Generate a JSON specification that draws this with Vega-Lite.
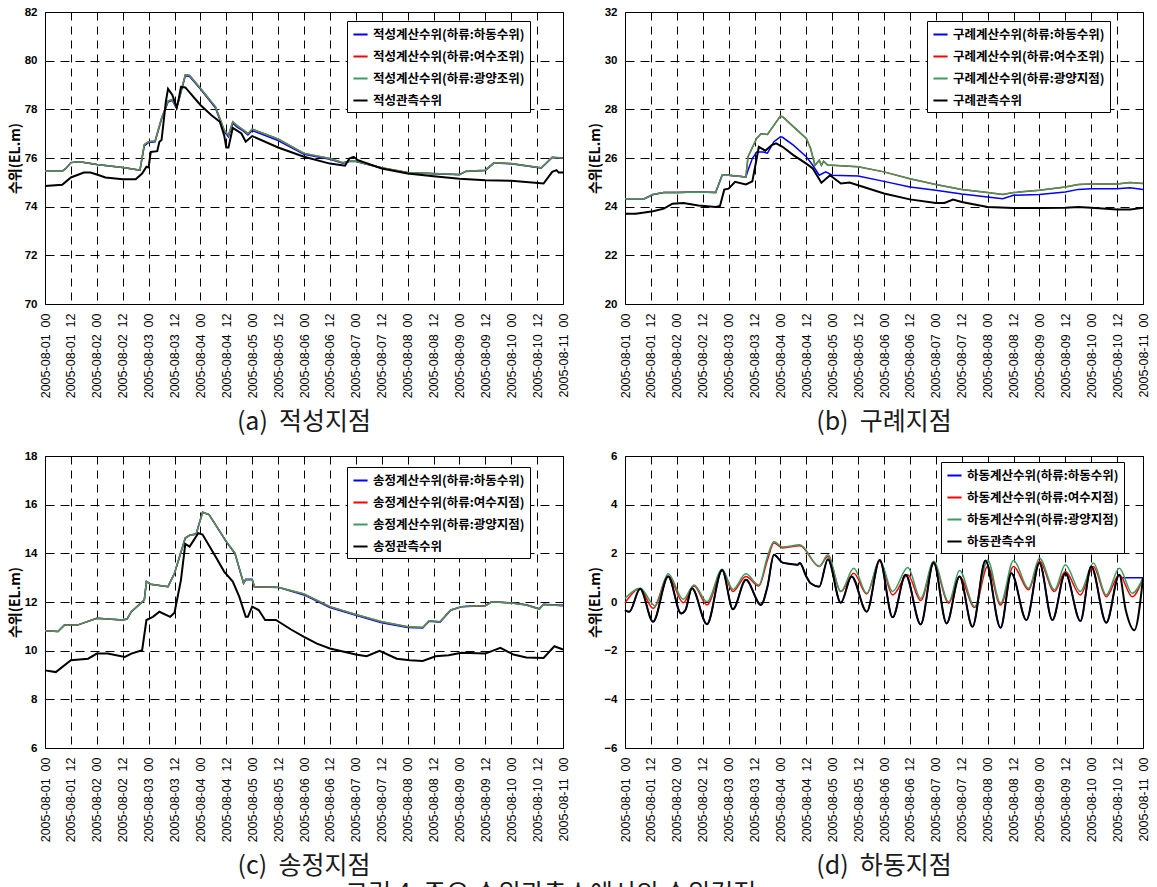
{
"$schema": "https://vega.github.io/schema/vega-lite/v6.json",
"padding": {"left": 7, "top": 5, "right": 0, "bottom": 0},
"title": {"text": "그림 4. 주요 수위관측소에서의 수위검정", "orient": "bottom", "anchor": "middle", "offset": 3, "dx": -28},
"config": {
 "font": "Liberation Sans",
 "view": {"stroke": "#000", "strokeWidth": 1},
 "axis": {"grid": true, "gridColor": "#000", "gridOpacity": 1, "gridWidth": 1, "domain": false, "ticks": false, "labelColor": "#000", "titleColor": "#000"},
 "axisX": {"gridDash": [8, 6], "labelAngle": -90, "labelFontSize": 12.5, "labelPadding": 9, "labelFlush": false, "labelOverlap": false, "format": "%Y-%m-%d\u00a0\u00a0%H"},
 "axisY": {"gridDash": [9, 6], "labelFontSize": 11.5, "labelFontWeight": "bold", "labelPadding": 8, "minExtent": 21, "maxExtent": 21, "titleFont": "Noto Sans CJK KR", "titleFontSize": 14, "titleFontWeight": "bold", "titlePadding": 2},
 "legend": {"orient": "none", "title": null, "labelFont": "Noto Sans CJK KR", "labelFontSize": 12.5, "labelFontWeight": "bold", "labelColor": "#000", "symbolType": "stroke", "symbolStrokeWidth": 2, "symbolSize": 200, "strokeColor": "#000", "fillColor": "#fff", "padding": 5, "rowPadding": 7, "labelOffset": 4, "labelLimit": 300},
 "title": {"orient": "bottom", "anchor": "middle", "font": "Noto Sans CJK KR", "fontSize": 25, "fontWeight": "normal", "color": "#1a1a1a", "offset": 12}
},
"resolve": {"scale": {"color": "independent"}, "legend": {"color": "independent"}},
"spacing": 13,
"vconcat": [
{"hconcat": [
{
 "width": 518, "height": 292,
 "title": {"text": "(a)\u00a0 적성지점"},
 "data": {"values": [
{"s":"b","t":"2005-08-01 00:00","v":75.46},{"s":"b","t":"2005-08-01 08:00","v":75.46},{"s":"b","t":"2005-08-01 10:00","v":75.6},{"s":"b","t":"2005-08-01 12:00","v":75.81},{"s":"b","t":"2005-08-01 16:00","v":75.85},{"s":"b","t":"2005-08-02 00:00","v":75.73},{"s":"b","t":"2005-08-02 12:00","v":75.61},{"s":"b","t":"2005-08-02 18:00","v":75.53},{"s":"b","t":"2005-08-02 20:00","v":75.5},{"s":"b","t":"2005-08-02 22:00","v":76.5},{"s":"b","t":"2005-08-03 00:00","v":76.64},{"s":"b","t":"2005-08-03 03:00","v":76.67},{"s":"b","t":"2005-08-03 06:00","v":77.6},{"s":"b","t":"2005-08-03 09:00","v":78.3},{"s":"b","t":"2005-08-03 11:00","v":78.37},{"s":"b","t":"2005-08-03 13:00","v":78.04},{"s":"b","t":"2005-08-03 15:00","v":78.7},{"s":"b","t":"2005-08-03 17:00","v":79.38},{"s":"b","t":"2005-08-03 19:00","v":79.35},{"s":"b","t":"2005-08-04 00:00","v":78.83},{"s":"b","t":"2005-08-04 07:00","v":78.05},{"s":"b","t":"2005-08-04 09:00","v":77.57},{"s":"b","t":"2005-08-04 11:00","v":77.08},{"s":"b","t":"2005-08-04 13:00","v":76.87},{"s":"b","t":"2005-08-04 15:00","v":77.43},{"s":"b","t":"2005-08-04 17:00","v":77.27},{"s":"b","t":"2005-08-04 20:00","v":77.1},{"s":"b","t":"2005-08-04 22:00","v":76.95},{"s":"b","t":"2005-08-05 00:00","v":77.13},{"s":"b","t":"2005-08-05 12:00","v":76.72},{"s":"b","t":"2005-08-06 00:00","v":76.15},{"s":"b","t":"2005-08-06 12:00","v":75.95},{"s":"b","t":"2005-08-06 18:00","v":75.79},{"s":"b","t":"2005-08-06 21:00","v":75.86},{"s":"b","t":"2005-08-07 00:00","v":75.86},{"s":"b","t":"2005-08-07 12:00","v":75.59},{"s":"b","t":"2005-08-08 00:00","v":75.39},{"s":"b","t":"2005-08-08 12:00","v":75.35},{"s":"b","t":"2005-08-09 00:00","v":75.31},{"s":"b","t":"2005-08-09 03:00","v":75.45},{"s":"b","t":"2005-08-09 12:00","v":75.49},{"s":"b","t":"2005-08-09 16:00","v":75.79},{"s":"b","t":"2005-08-10 00:00","v":75.76},{"s":"b","t":"2005-08-10 12:00","v":75.61},{"s":"b","t":"2005-08-10 14:00","v":75.59},{"s":"b","t":"2005-08-10 19:00","v":76.02},{"s":"b","t":"2005-08-11 00:00","v":75.99},
{"s":"r","t":"2005-08-01 00:00","v":75.46},{"s":"r","t":"2005-08-01 08:00","v":75.46},{"s":"r","t":"2005-08-01 10:00","v":75.6},{"s":"r","t":"2005-08-01 12:00","v":75.81},{"s":"r","t":"2005-08-01 16:00","v":75.85},{"s":"r","t":"2005-08-02 00:00","v":75.73},{"s":"r","t":"2005-08-02 12:00","v":75.61},{"s":"r","t":"2005-08-02 18:00","v":75.53},{"s":"r","t":"2005-08-02 20:00","v":75.5},{"s":"r","t":"2005-08-02 22:00","v":76.55},{"s":"r","t":"2005-08-03 00:00","v":76.67},{"s":"r","t":"2005-08-03 03:00","v":76.7},{"s":"r","t":"2005-08-03 06:00","v":77.63},{"s":"r","t":"2005-08-03 09:00","v":78.34},{"s":"r","t":"2005-08-03 11:00","v":78.4},{"s":"r","t":"2005-08-03 13:00","v":78.07},{"s":"r","t":"2005-08-03 15:00","v":78.73},{"s":"r","t":"2005-08-03 17:00","v":79.42},{"s":"r","t":"2005-08-03 19:00","v":79.39},{"s":"r","t":"2005-08-04 00:00","v":78.87},{"s":"r","t":"2005-08-04 07:00","v":78.1},{"s":"r","t":"2005-08-04 09:00","v":77.63},{"s":"r","t":"2005-08-04 11:00","v":77.15},{"s":"r","t":"2005-08-04 13:00","v":76.94},{"s":"r","t":"2005-08-04 15:00","v":77.49},{"s":"r","t":"2005-08-04 17:00","v":77.33},{"s":"r","t":"2005-08-04 20:00","v":77.15},{"s":"r","t":"2005-08-04 22:00","v":77.0},{"s":"r","t":"2005-08-05 00:00","v":77.19},{"s":"r","t":"2005-08-05 12:00","v":76.78},{"s":"r","t":"2005-08-06 00:00","v":76.19},{"s":"r","t":"2005-08-06 12:00","v":75.98},{"s":"r","t":"2005-08-06 18:00","v":75.81},{"s":"r","t":"2005-08-06 21:00","v":75.88},{"s":"r","t":"2005-08-07 00:00","v":75.87},{"s":"r","t":"2005-08-07 12:00","v":75.6},{"s":"r","t":"2005-08-08 00:00","v":75.4},{"s":"r","t":"2005-08-08 12:00","v":75.36},{"s":"r","t":"2005-08-09 00:00","v":75.32},{"s":"r","t":"2005-08-09 03:00","v":75.46},{"s":"r","t":"2005-08-09 12:00","v":75.5},{"s":"r","t":"2005-08-09 16:00","v":75.8},{"s":"r","t":"2005-08-10 00:00","v":75.77},{"s":"r","t":"2005-08-10 12:00","v":75.62},{"s":"r","t":"2005-08-10 14:00","v":75.6},{"s":"r","t":"2005-08-10 19:00","v":76.03},{"s":"r","t":"2005-08-11 00:00","v":76.0},
{"s":"g","t":"2005-08-01 00:00","v":75.46},{"s":"g","t":"2005-08-01 08:00","v":75.46},{"s":"g","t":"2005-08-01 10:00","v":75.6},{"s":"g","t":"2005-08-01 12:00","v":75.81},{"s":"g","t":"2005-08-01 16:00","v":75.85},{"s":"g","t":"2005-08-02 00:00","v":75.73},{"s":"g","t":"2005-08-02 12:00","v":75.61},{"s":"g","t":"2005-08-02 18:00","v":75.53},{"s":"g","t":"2005-08-02 20:00","v":75.5},{"s":"g","t":"2005-08-02 22:00","v":76.55},{"s":"g","t":"2005-08-03 00:00","v":76.67},{"s":"g","t":"2005-08-03 03:00","v":76.7},{"s":"g","t":"2005-08-03 06:00","v":77.63},{"s":"g","t":"2005-08-03 09:00","v":78.34},{"s":"g","t":"2005-08-03 11:00","v":78.4},{"s":"g","t":"2005-08-03 13:00","v":78.07},{"s":"g","t":"2005-08-03 15:00","v":78.73},{"s":"g","t":"2005-08-03 17:00","v":79.42},{"s":"g","t":"2005-08-03 19:00","v":79.39},{"s":"g","t":"2005-08-04 00:00","v":78.87},{"s":"g","t":"2005-08-04 07:00","v":78.1},{"s":"g","t":"2005-08-04 09:00","v":77.63},{"s":"g","t":"2005-08-04 11:00","v":77.15},{"s":"g","t":"2005-08-04 13:00","v":76.94},{"s":"g","t":"2005-08-04 15:00","v":77.49},{"s":"g","t":"2005-08-04 17:00","v":77.33},{"s":"g","t":"2005-08-04 20:00","v":77.15},{"s":"g","t":"2005-08-04 22:00","v":77.0},{"s":"g","t":"2005-08-05 00:00","v":77.19},{"s":"g","t":"2005-08-05 12:00","v":76.78},{"s":"g","t":"2005-08-06 00:00","v":76.19},{"s":"g","t":"2005-08-06 12:00","v":75.98},{"s":"g","t":"2005-08-06 18:00","v":75.81},{"s":"g","t":"2005-08-06 21:00","v":75.88},{"s":"g","t":"2005-08-07 00:00","v":75.87},{"s":"g","t":"2005-08-07 12:00","v":75.6},{"s":"g","t":"2005-08-08 00:00","v":75.4},{"s":"g","t":"2005-08-08 12:00","v":75.36},{"s":"g","t":"2005-08-09 00:00","v":75.32},{"s":"g","t":"2005-08-09 03:00","v":75.46},{"s":"g","t":"2005-08-09 12:00","v":75.5},{"s":"g","t":"2005-08-09 16:00","v":75.8},{"s":"g","t":"2005-08-10 00:00","v":75.77},{"s":"g","t":"2005-08-10 12:00","v":75.62},{"s":"g","t":"2005-08-10 14:00","v":75.6},{"s":"g","t":"2005-08-10 19:00","v":76.03},{"s":"g","t":"2005-08-11 00:00","v":76.0},
{"s":"k","t":"2005-08-01 00:00","v":74.85},{"s":"k","t":"2005-08-01 08:00","v":74.9},{"s":"k","t":"2005-08-01 12:00","v":75.2},{"s":"k","t":"2005-08-01 18:00","v":75.4},{"s":"k","t":"2005-08-01 21:00","v":75.4},{"s":"k","t":"2005-08-02 00:00","v":75.32},{"s":"k","t":"2005-08-02 04:00","v":75.2},{"s":"k","t":"2005-08-02 12:00","v":75.13},{"s":"k","t":"2005-08-02 18:00","v":75.13},{"s":"k","t":"2005-08-02 21:00","v":75.36},{"s":"k","t":"2005-08-02 23:00","v":75.64},{"s":"k","t":"2005-08-03 00:00","v":75.61},{"s":"k","t":"2005-08-03 01:00","v":76.25},{"s":"k","t":"2005-08-03 04:00","v":76.28},{"s":"k","t":"2005-08-03 05:00","v":76.67},{"s":"k","t":"2005-08-03 06:00","v":76.74},{"s":"k","t":"2005-08-03 08:00","v":78.32},{"s":"k","t":"2005-08-03 09:00","v":78.84},{"s":"k","t":"2005-08-03 11:00","v":78.59},{"s":"k","t":"2005-08-03 13:00","v":78.07},{"s":"k","t":"2005-08-03 14:00","v":78.45},{"s":"k","t":"2005-08-03 15:00","v":78.92},{"s":"k","t":"2005-08-03 17:00","v":78.9},{"s":"k","t":"2005-08-04 00:00","v":78.18},{"s":"k","t":"2005-08-04 05:00","v":77.77},{"s":"k","t":"2005-08-04 09:00","v":77.49},{"s":"k","t":"2005-08-04 11:00","v":76.94},{"s":"k","t":"2005-08-04 12:00","v":76.43},{"s":"k","t":"2005-08-04 13:00","v":76.43},{"s":"k","t":"2005-08-04 15:00","v":77.24},{"s":"k","t":"2005-08-04 19:00","v":77.01},{"s":"k","t":"2005-08-04 21:00","v":76.67},{"s":"k","t":"2005-08-05 00:00","v":76.9},{"s":"k","t":"2005-08-05 12:00","v":76.43},{"s":"k","t":"2005-08-06 00:00","v":76.05},{"s":"k","t":"2005-08-06 12:00","v":75.77},{"s":"k","t":"2005-08-06 19:00","v":75.68},{"s":"k","t":"2005-08-06 21:00","v":75.98},{"s":"k","t":"2005-08-06 23:00","v":76.05},{"s":"k","t":"2005-08-07 01:00","v":75.91},{"s":"k","t":"2005-08-07 12:00","v":75.57},{"s":"k","t":"2005-08-08 00:00","v":75.36},{"s":"k","t":"2005-08-08 12:00","v":75.25},{"s":"k","t":"2005-08-09 00:00","v":75.15},{"s":"k","t":"2005-08-09 12:00","v":75.09},{"s":"k","t":"2005-08-10 00:00","v":75.06},{"s":"k","t":"2005-08-10 15:00","v":74.95},{"s":"k","t":"2005-08-10 19:00","v":75.43},{"s":"k","t":"2005-08-10 21:00","v":75.5},{"s":"k","t":"2005-08-10 22:00","v":75.4},{"s":"k","t":"2005-08-11 00:00","v":75.4}
 ]},
 "mark": {"type": "line"},
 "encoding": {
  "x": {"field": "t", "type": "temporal", "scale": {"domain": [{"year":2005,"month":8,"date":1},{"year":2005,"month":8,"date":11}]}, "axis": {"tickCount": 20, "title": null}},
  "y": {"field": "v", "type": "quantitative", "scale": {"domain": [70, 82], "zero": false}, "axis": {"values": [70,72,74,76,78,80,82], "title": "수위(EL.m)"}},
  "color": {"field": "s", "type": "nominal", "scale": {"domain": ["b","r","g","k"], "range": ["#0000ff","#ff0000","#3d9a60","#000000"]}, "legend": {"legendX": 302, "legendY": 9, "labelExpr": "datum.label=='b'?'적성계산수위(하류:하동수위)':datum.label=='r'?'적성계산수위(하류:여수조위)':datum.label=='g'?'적성계산수위(하류:광양조위)':'적성관측수위'"}},
  "strokeWidth": {"condition": {"test": "datum.s=='k'", "value": 2}, "value": 1.5}
 }
},
{
 "width": 518, "height": 292,
 "title": {"text": "(b)\u00a0 구례지점"},
 "data": {"values": [
{"s":"b","t":"2005-08-01 00:00","v":24.33},{"s":"b","t":"2005-08-01 09:00","v":24.33},{"s":"b","t":"2005-08-01 13:00","v":24.5},{"s":"b","t":"2005-08-01 18:00","v":24.58},{"s":"b","t":"2005-08-02 00:00","v":24.58},{"s":"b","t":"2005-08-02 10:00","v":24.6},{"s":"b","t":"2005-08-02 18:00","v":24.58},{"s":"b","t":"2005-08-02 21:00","v":25.29},{"s":"b","t":"2005-08-03 00:00","v":25.29},{"s":"b","t":"2005-08-03 08:00","v":25.22},{"s":"b","t":"2005-08-03 09:00","v":25.5},{"s":"b","t":"2005-08-03 11:00","v":25.98},{"s":"b","t":"2005-08-03 13:00","v":26.25},{"s":"b","t":"2005-08-03 16:00","v":26.25},{"s":"b","t":"2005-08-03 18:00","v":26.2},{"s":"b","t":"2005-08-03 21:00","v":26.67},{"s":"b","t":"2005-08-04 00:00","v":26.87},{"s":"b","t":"2005-08-04 01:00","v":26.85},{"s":"b","t":"2005-08-04 06:00","v":26.53},{"s":"b","t":"2005-08-04 12:00","v":26.05},{"s":"b","t":"2005-08-04 15:00","v":25.7},{"s":"b","t":"2005-08-04 18:00","v":25.29},{"s":"b","t":"2005-08-04 21:00","v":25.43},{"s":"b","t":"2005-08-05 00:00","v":25.29},{"s":"b","t":"2005-08-05 12:00","v":25.26},{"s":"b","t":"2005-08-06 00:00","v":25.04},{"s":"b","t":"2005-08-06 12:00","v":24.81},{"s":"b","t":"2005-08-07 00:00","v":24.67},{"s":"b","t":"2005-08-07 12:00","v":24.52},{"s":"b","t":"2005-08-08 00:00","v":24.4},{"s":"b","t":"2005-08-08 07:00","v":24.33},{"s":"b","t":"2005-08-08 12:00","v":24.47},{"s":"b","t":"2005-08-09 00:00","v":24.5},{"s":"b","t":"2005-08-09 12:00","v":24.6},{"s":"b","t":"2005-08-09 18:00","v":24.71},{"s":"b","t":"2005-08-10 00:00","v":24.74},{"s":"b","t":"2005-08-10 12:00","v":24.74},{"s":"b","t":"2005-08-10 18:00","v":24.78},{"s":"b","t":"2005-08-11 00:00","v":24.71},
{"s":"r","t":"2005-08-01 00:00","v":24.33},{"s":"r","t":"2005-08-01 09:00","v":24.33},{"s":"r","t":"2005-08-01 13:00","v":24.5},{"s":"r","t":"2005-08-01 18:00","v":24.58},{"s":"r","t":"2005-08-02 00:00","v":24.58},{"s":"r","t":"2005-08-02 10:00","v":24.6},{"s":"r","t":"2005-08-02 18:00","v":24.58},{"s":"r","t":"2005-08-02 21:00","v":25.29},{"s":"r","t":"2005-08-03 00:00","v":25.29},{"s":"r","t":"2005-08-03 08:00","v":25.22},{"s":"r","t":"2005-08-03 09:00","v":26.05},{"s":"r","t":"2005-08-03 13:00","v":26.8},{"s":"r","t":"2005-08-03 15:00","v":27.0},{"s":"r","t":"2005-08-03 18:00","v":26.97},{"s":"r","t":"2005-08-04 00:00","v":27.72},{"s":"r","t":"2005-08-04 01:00","v":27.7},{"s":"r","t":"2005-08-04 06:00","v":27.29},{"s":"r","t":"2005-08-04 12:00","v":26.8},{"s":"r","t":"2005-08-04 14:00","v":26.39},{"s":"r","t":"2005-08-04 16:00","v":25.7},{"s":"r","t":"2005-08-04 18:00","v":25.91},{"s":"r","t":"2005-08-04 19:00","v":25.7},{"s":"r","t":"2005-08-04 20:00","v":25.87},{"s":"r","t":"2005-08-04 22:00","v":25.7},{"s":"r","t":"2005-08-05 00:00","v":25.7},{"s":"r","t":"2005-08-05 12:00","v":25.64},{"s":"r","t":"2005-08-06 00:00","v":25.43},{"s":"r","t":"2005-08-06 12:00","v":25.15},{"s":"r","t":"2005-08-07 00:00","v":24.91},{"s":"r","t":"2005-08-07 12:00","v":24.71},{"s":"r","t":"2005-08-08 00:00","v":24.58},{"s":"r","t":"2005-08-08 07:00","v":24.5},{"s":"r","t":"2005-08-08 12:00","v":24.58},{"s":"r","t":"2005-08-09 00:00","v":24.67},{"s":"r","t":"2005-08-09 12:00","v":24.81},{"s":"r","t":"2005-08-09 18:00","v":24.91},{"s":"r","t":"2005-08-10 00:00","v":24.93},{"s":"r","t":"2005-08-10 12:00","v":24.93},{"s":"r","t":"2005-08-10 18:00","v":24.99},{"s":"r","t":"2005-08-11 00:00","v":24.95},
{"s":"g","t":"2005-08-01 00:00","v":24.33},{"s":"g","t":"2005-08-01 09:00","v":24.33},{"s":"g","t":"2005-08-01 13:00","v":24.5},{"s":"g","t":"2005-08-01 18:00","v":24.58},{"s":"g","t":"2005-08-02 00:00","v":24.58},{"s":"g","t":"2005-08-02 10:00","v":24.6},{"s":"g","t":"2005-08-02 18:00","v":24.58},{"s":"g","t":"2005-08-02 21:00","v":25.29},{"s":"g","t":"2005-08-03 00:00","v":25.29},{"s":"g","t":"2005-08-03 08:00","v":25.22},{"s":"g","t":"2005-08-03 09:00","v":26.05},{"s":"g","t":"2005-08-03 13:00","v":26.8},{"s":"g","t":"2005-08-03 15:00","v":27.0},{"s":"g","t":"2005-08-03 18:00","v":26.97},{"s":"g","t":"2005-08-04 00:00","v":27.72},{"s":"g","t":"2005-08-04 01:00","v":27.7},{"s":"g","t":"2005-08-04 06:00","v":27.29},{"s":"g","t":"2005-08-04 12:00","v":26.8},{"s":"g","t":"2005-08-04 14:00","v":26.39},{"s":"g","t":"2005-08-04 16:00","v":25.7},{"s":"g","t":"2005-08-04 18:00","v":25.91},{"s":"g","t":"2005-08-04 19:00","v":25.7},{"s":"g","t":"2005-08-04 20:00","v":25.87},{"s":"g","t":"2005-08-04 22:00","v":25.7},{"s":"g","t":"2005-08-05 00:00","v":25.7},{"s":"g","t":"2005-08-05 12:00","v":25.64},{"s":"g","t":"2005-08-06 00:00","v":25.43},{"s":"g","t":"2005-08-06 12:00","v":25.15},{"s":"g","t":"2005-08-07 00:00","v":24.91},{"s":"g","t":"2005-08-07 12:00","v":24.71},{"s":"g","t":"2005-08-08 00:00","v":24.58},{"s":"g","t":"2005-08-08 07:00","v":24.5},{"s":"g","t":"2005-08-08 12:00","v":24.58},{"s":"g","t":"2005-08-09 00:00","v":24.67},{"s":"g","t":"2005-08-09 12:00","v":24.81},{"s":"g","t":"2005-08-09 18:00","v":24.91},{"s":"g","t":"2005-08-10 00:00","v":24.93},{"s":"g","t":"2005-08-10 12:00","v":24.93},{"s":"g","t":"2005-08-10 18:00","v":24.99},{"s":"g","t":"2005-08-11 00:00","v":24.95},
{"s":"k","t":"2005-08-01 00:00","v":23.71},{"s":"k","t":"2005-08-01 05:00","v":23.71},{"s":"k","t":"2005-08-01 13:00","v":23.81},{"s":"k","t":"2005-08-01 18:00","v":23.92},{"s":"k","t":"2005-08-01 22:00","v":24.12},{"s":"k","t":"2005-08-02 03:00","v":24.15},{"s":"k","t":"2005-08-02 10:00","v":24.05},{"s":"k","t":"2005-08-02 18:00","v":23.99},{"s":"k","t":"2005-08-02 20:00","v":24.03},{"s":"k","t":"2005-08-02 22:00","v":24.7},{"s":"k","t":"2005-08-03 00:00","v":24.74},{"s":"k","t":"2005-08-03 03:00","v":25.02},{"s":"k","t":"2005-08-03 08:00","v":24.91},{"s":"k","t":"2005-08-03 11:00","v":25.04},{"s":"k","t":"2005-08-03 13:00","v":25.98},{"s":"k","t":"2005-08-03 14:00","v":26.46},{"s":"k","t":"2005-08-03 17:00","v":26.3},{"s":"k","t":"2005-08-03 20:00","v":26.53},{"s":"k","t":"2005-08-03 22:00","v":26.6},{"s":"k","t":"2005-08-04 01:00","v":26.46},{"s":"k","t":"2005-08-04 06:00","v":26.12},{"s":"k","t":"2005-08-04 12:00","v":25.77},{"s":"k","t":"2005-08-04 15:00","v":25.57},{"s":"k","t":"2005-08-04 19:00","v":24.98},{"s":"k","t":"2005-08-04 23:00","v":25.29},{"s":"k","t":"2005-08-05 04:00","v":24.95},{"s":"k","t":"2005-08-05 08:00","v":24.99},{"s":"k","t":"2005-08-05 12:00","v":24.88},{"s":"k","t":"2005-08-06 00:00","v":24.54},{"s":"k","t":"2005-08-06 12:00","v":24.3},{"s":"k","t":"2005-08-07 00:00","v":24.15},{"s":"k","t":"2005-08-07 04:00","v":24.15},{"s":"k","t":"2005-08-07 08:00","v":24.29},{"s":"k","t":"2005-08-07 12:00","v":24.19},{"s":"k","t":"2005-08-08 00:00","v":23.99},{"s":"k","t":"2005-08-08 12:00","v":23.95},{"s":"k","t":"2005-08-09 00:00","v":23.95},{"s":"k","t":"2005-08-09 12:00","v":23.96},{"s":"k","t":"2005-08-09 18:00","v":23.99},{"s":"k","t":"2005-08-10 00:00","v":23.96},{"s":"k","t":"2005-08-10 12:00","v":23.88},{"s":"k","t":"2005-08-10 18:00","v":23.88},{"s":"k","t":"2005-08-11 00:00","v":23.95}
 ]},
 "mark": {"type": "line"},
 "encoding": {
  "x": {"field": "t", "type": "temporal", "scale": {"domain": [{"year":2005,"month":8,"date":1},{"year":2005,"month":8,"date":11}]}, "axis": {"tickCount": 20, "title": null}},
  "y": {"field": "v", "type": "quantitative", "scale": {"domain": [20, 32], "zero": false}, "axis": {"values": [20,22,24,26,28,30,32], "title": "수위(EL.m)"}},
  "color": {"field": "s", "type": "nominal", "scale": {"domain": ["b","r","g","k"], "range": ["#0000ff","#ff0000","#3d9a60","#000000"]}, "legend": {"legendX": 302, "legendY": 9, "labelExpr": "datum.label=='b'?'구례계산수위(하류:하동수위)':datum.label=='r'?'구례계산수위(하류:여수조위)':datum.label=='g'?'구례계산수위(하류:광양지점)':'구례관측수위'"}},
  "strokeWidth": {"condition": {"test": "datum.s=='k'", "value": 2}, "value": 1.5}
 }
}
], "spacing": 17, "resolve": {"scale": {"color": "independent"}, "legend": {"color": "independent"}}},
{"hconcat": [
{
 "width": 518, "height": 292,
 "title": {"text": "(c)\u00a0 송정지점"},
 "data": {"values": [
{"s":"b","t":"2005-08-01 00:00","v":10.82},{"s":"b","t":"2005-08-01 06:00","v":10.79},{"s":"b","t":"2005-08-01 09:00","v":11.05},{"s":"b","t":"2005-08-01 15:00","v":11.05},{"s":"b","t":"2005-08-02 00:00","v":11.33},{"s":"b","t":"2005-08-02 12:00","v":11.26},{"s":"b","t":"2005-08-02 14:00","v":11.3},{"s":"b","t":"2005-08-02 16:00","v":11.6},{"s":"b","t":"2005-08-02 22:00","v":12.08},{"s":"b","t":"2005-08-02 23:00","v":12.84},{"s":"b","t":"2005-08-03 01:00","v":12.73},{"s":"b","t":"2005-08-03 09:00","v":12.63},{"s":"b","t":"2005-08-03 12:00","v":13.18},{"s":"b","t":"2005-08-03 17:00","v":14.63},{"s":"b","t":"2005-08-03 19:00","v":14.74},{"s":"b","t":"2005-08-03 22:00","v":14.79},{"s":"b","t":"2005-08-04 01:00","v":15.69},{"s":"b","t":"2005-08-04 04:00","v":15.59},{"s":"b","t":"2005-08-04 12:00","v":14.47},{"s":"b","t":"2005-08-04 16:00","v":13.99},{"s":"b","t":"2005-08-04 20:00","v":12.77},{"s":"b","t":"2005-08-04 21:00","v":12.93},{"s":"b","t":"2005-08-05 00:00","v":12.93},{"s":"b","t":"2005-08-05 01:00","v":12.63},{"s":"b","t":"2005-08-05 12:00","v":12.6},{"s":"b","t":"2005-08-06 00:00","v":12.29},{"s":"b","t":"2005-08-06 12:00","v":11.77},{"s":"b","t":"2005-08-07 00:00","v":11.45},{"s":"b","t":"2005-08-07 12:00","v":11.15},{"s":"b","t":"2005-08-08 00:00","v":10.95},{"s":"b","t":"2005-08-08 07:00","v":10.93},{"s":"b","t":"2005-08-08 10:00","v":11.21},{"s":"b","t":"2005-08-08 15:00","v":11.17},{"s":"b","t":"2005-08-08 20:00","v":11.66},{"s":"b","t":"2005-08-09 01:00","v":11.8},{"s":"b","t":"2005-08-09 06:00","v":11.83},{"s":"b","t":"2005-08-09 12:00","v":11.85},{"s":"b","t":"2005-08-09 15:00","v":12.01},{"s":"b","t":"2005-08-10 01:00","v":11.96},{"s":"b","t":"2005-08-10 07:00","v":11.89},{"s":"b","t":"2005-08-10 13:00","v":11.72},{"s":"b","t":"2005-08-10 15:00","v":11.91},{"s":"b","t":"2005-08-11 00:00","v":11.87},
{"s":"r","t":"2005-08-01 00:00","v":10.82},{"s":"r","t":"2005-08-01 06:00","v":10.79},{"s":"r","t":"2005-08-01 09:00","v":11.05},{"s":"r","t":"2005-08-01 15:00","v":11.05},{"s":"r","t":"2005-08-02 00:00","v":11.33},{"s":"r","t":"2005-08-02 12:00","v":11.26},{"s":"r","t":"2005-08-02 14:00","v":11.3},{"s":"r","t":"2005-08-02 16:00","v":11.6},{"s":"r","t":"2005-08-02 22:00","v":12.08},{"s":"r","t":"2005-08-02 23:00","v":12.84},{"s":"r","t":"2005-08-03 01:00","v":12.73},{"s":"r","t":"2005-08-03 09:00","v":12.63},{"s":"r","t":"2005-08-03 12:00","v":13.18},{"s":"r","t":"2005-08-03 17:00","v":14.63},{"s":"r","t":"2005-08-03 19:00","v":14.74},{"s":"r","t":"2005-08-03 22:00","v":14.79},{"s":"r","t":"2005-08-04 01:00","v":15.69},{"s":"r","t":"2005-08-04 04:00","v":15.59},{"s":"r","t":"2005-08-04 12:00","v":14.49},{"s":"r","t":"2005-08-04 16:00","v":14.01},{"s":"r","t":"2005-08-04 20:00","v":12.77},{"s":"r","t":"2005-08-04 21:00","v":12.91},{"s":"r","t":"2005-08-05 00:00","v":12.91},{"s":"r","t":"2005-08-05 01:00","v":12.63},{"s":"r","t":"2005-08-05 12:00","v":12.61},{"s":"r","t":"2005-08-06 00:00","v":12.33},{"s":"r","t":"2005-08-06 12:00","v":11.81},{"s":"r","t":"2005-08-07 00:00","v":11.49},{"s":"r","t":"2005-08-07 12:00","v":11.19},{"s":"r","t":"2005-08-08 00:00","v":10.98},{"s":"r","t":"2005-08-08 07:00","v":10.95},{"s":"r","t":"2005-08-08 10:00","v":11.23},{"s":"r","t":"2005-08-08 15:00","v":11.19},{"s":"r","t":"2005-08-08 20:00","v":11.67},{"s":"r","t":"2005-08-09 01:00","v":11.81},{"s":"r","t":"2005-08-09 06:00","v":11.84},{"s":"r","t":"2005-08-09 12:00","v":11.85},{"s":"r","t":"2005-08-09 15:00","v":12.01},{"s":"r","t":"2005-08-10 01:00","v":11.95},{"s":"r","t":"2005-08-10 07:00","v":11.88},{"s":"r","t":"2005-08-10 13:00","v":11.71},{"s":"r","t":"2005-08-10 15:00","v":11.9},{"s":"r","t":"2005-08-11 00:00","v":11.85},
{"s":"g","t":"2005-08-01 00:00","v":10.82},{"s":"g","t":"2005-08-01 06:00","v":10.79},{"s":"g","t":"2005-08-01 09:00","v":11.05},{"s":"g","t":"2005-08-01 15:00","v":11.05},{"s":"g","t":"2005-08-02 00:00","v":11.33},{"s":"g","t":"2005-08-02 12:00","v":11.26},{"s":"g","t":"2005-08-02 14:00","v":11.3},{"s":"g","t":"2005-08-02 16:00","v":11.6},{"s":"g","t":"2005-08-02 22:00","v":12.08},{"s":"g","t":"2005-08-02 23:00","v":12.84},{"s":"g","t":"2005-08-03 01:00","v":12.73},{"s":"g","t":"2005-08-03 09:00","v":12.63},{"s":"g","t":"2005-08-03 12:00","v":13.18},{"s":"g","t":"2005-08-03 17:00","v":14.63},{"s":"g","t":"2005-08-03 19:00","v":14.74},{"s":"g","t":"2005-08-03 22:00","v":14.79},{"s":"g","t":"2005-08-04 01:00","v":15.69},{"s":"g","t":"2005-08-04 04:00","v":15.59},{"s":"g","t":"2005-08-04 12:00","v":14.49},{"s":"g","t":"2005-08-04 16:00","v":14.01},{"s":"g","t":"2005-08-04 20:00","v":12.77},{"s":"g","t":"2005-08-04 21:00","v":12.91},{"s":"g","t":"2005-08-05 00:00","v":12.91},{"s":"g","t":"2005-08-05 01:00","v":12.63},{"s":"g","t":"2005-08-05 12:00","v":12.61},{"s":"g","t":"2005-08-06 00:00","v":12.33},{"s":"g","t":"2005-08-06 12:00","v":11.81},{"s":"g","t":"2005-08-07 00:00","v":11.49},{"s":"g","t":"2005-08-07 12:00","v":11.19},{"s":"g","t":"2005-08-08 00:00","v":10.98},{"s":"g","t":"2005-08-08 07:00","v":10.95},{"s":"g","t":"2005-08-08 10:00","v":11.23},{"s":"g","t":"2005-08-08 15:00","v":11.19},{"s":"g","t":"2005-08-08 20:00","v":11.67},{"s":"g","t":"2005-08-09 01:00","v":11.81},{"s":"g","t":"2005-08-09 06:00","v":11.84},{"s":"g","t":"2005-08-09 12:00","v":11.85},{"s":"g","t":"2005-08-09 15:00","v":12.01},{"s":"g","t":"2005-08-10 01:00","v":11.95},{"s":"g","t":"2005-08-10 07:00","v":11.88},{"s":"g","t":"2005-08-10 13:00","v":11.71},{"s":"g","t":"2005-08-10 15:00","v":11.9},{"s":"g","t":"2005-08-11 00:00","v":11.85},
{"s":"k","t":"2005-08-01 00:00","v":9.19},{"s":"k","t":"2005-08-01 05:00","v":9.12},{"s":"k","t":"2005-08-01 12:00","v":9.61},{"s":"k","t":"2005-08-01 20:00","v":9.67},{"s":"k","t":"2005-08-02 00:00","v":9.88},{"s":"k","t":"2005-08-02 05:00","v":9.88},{"s":"k","t":"2005-08-02 13:00","v":9.74},{"s":"k","t":"2005-08-02 16:00","v":9.88},{"s":"k","t":"2005-08-02 21:00","v":10.02},{"s":"k","t":"2005-08-02 23:00","v":11.26},{"s":"k","t":"2005-08-03 02:00","v":11.39},{"s":"k","t":"2005-08-03 05:00","v":11.6},{"s":"k","t":"2005-08-03 10:00","v":11.39},{"s":"k","t":"2005-08-03 12:00","v":11.56},{"s":"k","t":"2005-08-03 15:00","v":12.91},{"s":"k","t":"2005-08-03 17:00","v":14.39},{"s":"k","t":"2005-08-03 19:00","v":14.28},{"s":"k","t":"2005-08-03 23:00","v":14.83},{"s":"k","t":"2005-08-04 01:00","v":14.77},{"s":"k","t":"2005-08-04 07:00","v":13.87},{"s":"k","t":"2005-08-04 11:00","v":13.25},{"s":"k","t":"2005-08-04 15:00","v":12.84},{"s":"k","t":"2005-08-04 18:00","v":12.22},{"s":"k","t":"2005-08-04 21:00","v":11.39},{"s":"k","t":"2005-08-04 22:00","v":11.39},{"s":"k","t":"2005-08-05 00:00","v":11.81},{"s":"k","t":"2005-08-05 03:00","v":11.67},{"s":"k","t":"2005-08-05 06:00","v":11.26},{"s":"k","t":"2005-08-05 11:00","v":11.26},{"s":"k","t":"2005-08-05 18:00","v":10.87},{"s":"k","t":"2005-08-06 00:00","v":10.57},{"s":"k","t":"2005-08-06 06:00","v":10.29},{"s":"k","t":"2005-08-06 12:00","v":10.09},{"s":"k","t":"2005-08-07 00:00","v":9.84},{"s":"k","t":"2005-08-07 05:00","v":9.77},{"s":"k","t":"2005-08-07 11:00","v":9.99},{"s":"k","t":"2005-08-07 19:00","v":9.67},{"s":"k","t":"2005-08-08 01:00","v":9.61},{"s":"k","t":"2005-08-08 07:00","v":9.58},{"s":"k","t":"2005-08-08 13:00","v":9.77},{"s":"k","t":"2005-08-08 19:00","v":9.81},{"s":"k","t":"2005-08-09 01:00","v":9.91},{"s":"k","t":"2005-08-09 12:00","v":9.88},{"s":"k","t":"2005-08-09 19:00","v":10.12},{"s":"k","t":"2005-08-10 01:00","v":9.84},{"s":"k","t":"2005-08-10 07:00","v":9.72},{"s":"k","t":"2005-08-10 15:00","v":9.7},{"s":"k","t":"2005-08-10 20:00","v":10.18},{"s":"k","t":"2005-08-11 00:00","v":10.05}
 ]},
 "mark": {"type": "line"},
 "encoding": {
  "x": {"field": "t", "type": "temporal", "scale": {"domain": [{"year":2005,"month":8,"date":1},{"year":2005,"month":8,"date":11}]}, "axis": {"tickCount": 20, "title": null}},
  "y": {"field": "v", "type": "quantitative", "scale": {"domain": [6, 18], "zero": false}, "axis": {"values": [6,8,10,12,14,16,18], "title": "수위(EL.m)"}},
  "color": {"field": "s", "type": "nominal", "scale": {"domain": ["b","r","g","k"], "range": ["#0000ff","#ff0000","#3d9a60","#000000"]}, "legend": {"legendX": 302, "legendY": 11, "labelExpr": "datum.label=='b'?'송정계산수위(하류:하동수위)':datum.label=='r'?'송정계산수위(하류:여수지점)':datum.label=='g'?'송정계산수위(하류:광양지점)':'송정관측수위'"}},
  "strokeWidth": {"condition": {"test": "datum.s=='k'", "value": 2}, "value": 1.5}
 }
},
{
 "width": 518, "height": 292,
 "title": {"text": "(d)\u00a0 하동지점"},
 "data": {"values": [
{"s":"b","t":"2005-08-01 00:00","v":-0.33},{"s":"b","t":"2005-08-01 02:00","v":-0.4},{"s":"b","t":"2005-08-01 07:00","v":0.54},{"s":"b","t":"2005-08-01 13:00","v":-0.81},{"s":"b","t":"2005-08-01 20:00","v":1.05},{"s":"b","t":"2005-08-02 02:00","v":-0.47},{"s":"b","t":"2005-08-02 04:00","v":-0.33},{"s":"b","t":"2005-08-02 07:00","v":0.56},{"s":"b","t":"2005-08-02 14:00","v":-0.91},{"s":"b","t":"2005-08-02 21:00","v":1.32},{"s":"b","t":"2005-08-03 02:00","v":-0.3},{"s":"b","t":"2005-08-03 08:00","v":0.91},{"s":"b","t":"2005-08-03 15:00","v":-0.12},{"s":"b","t":"2005-08-03 18:00","v":0.63},{"s":"b","t":"2005-08-03 21:00","v":1.94},{"s":"b","t":"2005-08-04 01:00","v":1.62},{"s":"b","t":"2005-08-04 04:00","v":1.57},{"s":"b","t":"2005-08-04 08:00","v":1.53},{"s":"b","t":"2005-08-04 09:00","v":1.6},{"s":"b","t":"2005-08-04 12:00","v":1.05},{"s":"b","t":"2005-08-04 14:00","v":0.77},{"s":"b","t":"2005-08-04 18:00","v":0.63},{"s":"b","t":"2005-08-04 22:00","v":1.76},{"s":"b","t":"2005-08-05 04:00","v":-0.03},{"s":"b","t":"2005-08-05 09:00","v":1.05},{"s":"b","t":"2005-08-05 16:00","v":-0.4},{"s":"b","t":"2005-08-05 22:00","v":1.73},{"s":"b","t":"2005-08-06 04:00","v":-0.63},{"s":"b","t":"2005-08-06 10:00","v":1.12},{"s":"b","t":"2005-08-06 17:00","v":-0.92},{"s":"b","t":"2005-08-06 23:00","v":1.62},{"s":"b","t":"2005-08-07 05:00","v":-0.88},{"s":"b","t":"2005-08-07 11:00","v":1.05},{"s":"b","t":"2005-08-07 17:00","v":-1.02},{"s":"b","t":"2005-08-07 23:00","v":1.71},{"s":"b","t":"2005-08-08 06:00","v":-1.06},{"s":"b","t":"2005-08-08 11:00","v":1.18},{"s":"b","t":"2005-08-08 18:00","v":-0.74},{"s":"b","t":"2005-08-09 00:00","v":1.6},{"s":"b","t":"2005-08-09 06:00","v":-0.74},{"s":"b","t":"2005-08-09 12:00","v":1.18},{"s":"b","t":"2005-08-09 19:00","v":-0.78},{"s":"b","t":"2005-08-10 00:00","v":1.46},{"s":"b","t":"2005-08-10 07:00","v":-0.85},{"s":"b","t":"2005-08-10 13:00","v":1.12},{"s":"b","t":"2005-08-10 14:00","v":1.0},{"s":"b","t":"2005-08-11 00:00","v":1.0},
{"s":"r","t":"2005-08-01 00:00","v":-0.03},{"s":"r","t":"2005-08-01 07:00","v":0.54},{"s":"r","t":"2005-08-01 13:00","v":-0.26},{"s":"r","t":"2005-08-01 20:00","v":1.07},{"s":"r","t":"2005-08-02 03:00","v":-0.03},{"s":"r","t":"2005-08-02 08:00","v":0.66},{"s":"r","t":"2005-08-02 14:00","v":-0.12},{"s":"r","t":"2005-08-02 21:00","v":1.29},{"s":"r","t":"2005-08-03 02:00","v":0.43},{"s":"r","t":"2005-08-03 08:00","v":1.05},{"s":"r","t":"2005-08-03 14:00","v":0.66},{"s":"r","t":"2005-08-03 18:00","v":1.73},{"s":"r","t":"2005-08-03 21:00","v":2.42},{"s":"r","t":"2005-08-04 01:00","v":2.22},{"s":"r","t":"2005-08-04 09:00","v":2.31},{"s":"r","t":"2005-08-04 18:00","v":1.46},{"s":"r","t":"2005-08-04 22:00","v":1.87},{"s":"r","t":"2005-08-05 04:00","v":0.43},{"s":"r","t":"2005-08-05 10:00","v":1.18},{"s":"r","t":"2005-08-05 16:00","v":0.33},{"s":"r","t":"2005-08-05 22:00","v":1.67},{"s":"r","t":"2005-08-06 04:00","v":0.29},{"s":"r","t":"2005-08-06 11:00","v":1.12},{"s":"r","t":"2005-08-06 17:00","v":0.06},{"s":"r","t":"2005-08-06 23:00","v":1.57},{"s":"r","t":"2005-08-07 06:00","v":-0.05},{"s":"r","t":"2005-08-07 11:00","v":1.05},{"s":"r","t":"2005-08-07 18:00","v":-0.23},{"s":"r","t":"2005-08-08 00:00","v":1.46},{"s":"r","t":"2005-08-08 06:00","v":-0.12},{"s":"r","t":"2005-08-08 12:00","v":1.46},{"s":"r","t":"2005-08-08 19:00","v":0.5},{"s":"r","t":"2005-08-09 00:00","v":1.67},{"s":"r","t":"2005-08-09 07:00","v":0.43},{"s":"r","t":"2005-08-09 12:00","v":1.25},{"s":"r","t":"2005-08-09 19:00","v":0.29},{"s":"r","t":"2005-08-10 01:00","v":1.46},{"s":"r","t":"2005-08-10 07:00","v":0.22},{"s":"r","t":"2005-08-10 13:00","v":1.12},{"s":"r","t":"2005-08-10 19:00","v":0.22},{"s":"r","t":"2005-08-11 00:00","v":0.98},
{"s":"g","t":"2005-08-01 00:00","v":0.15},{"s":"g","t":"2005-08-01 07:00","v":0.56},{"s":"g","t":"2005-08-01 14:00","v":-0.16},{"s":"g","t":"2005-08-01 20:00","v":1.16},{"s":"g","t":"2005-08-02 03:00","v":0.11},{"s":"g","t":"2005-08-02 08:00","v":0.7},{"s":"g","t":"2005-08-02 14:00","v":0.01},{"s":"g","t":"2005-08-02 21:00","v":1.35},{"s":"g","t":"2005-08-03 02:00","v":0.52},{"s":"g","t":"2005-08-03 08:00","v":1.16},{"s":"g","t":"2005-08-03 14:00","v":0.7},{"s":"g","t":"2005-08-03 18:00","v":1.87},{"s":"g","t":"2005-08-03 21:00","v":2.49},{"s":"g","t":"2005-08-04 01:00","v":2.26},{"s":"g","t":"2005-08-04 09:00","v":2.35},{"s":"g","t":"2005-08-04 18:00","v":1.46},{"s":"g","t":"2005-08-04 22:00","v":1.94},{"s":"g","t":"2005-08-05 04:00","v":0.43},{"s":"g","t":"2005-08-05 10:00","v":1.39},{"s":"g","t":"2005-08-05 16:00","v":0.36},{"s":"g","t":"2005-08-05 22:00","v":1.73},{"s":"g","t":"2005-08-06 04:00","v":0.43},{"s":"g","t":"2005-08-06 11:00","v":1.42},{"s":"g","t":"2005-08-06 17:00","v":0.15},{"s":"g","t":"2005-08-06 23:00","v":1.67},{"s":"g","t":"2005-08-07 06:00","v":0.01},{"s":"g","t":"2005-08-07 11:00","v":1.29},{"s":"g","t":"2005-08-07 18:00","v":-0.19},{"s":"g","t":"2005-08-08 00:00","v":1.73},{"s":"g","t":"2005-08-08 06:00","v":-0.05},{"s":"g","t":"2005-08-08 12:00","v":1.71},{"s":"g","t":"2005-08-08 19:00","v":0.56},{"s":"g","t":"2005-08-09 00:00","v":1.8},{"s":"g","t":"2005-08-09 07:00","v":0.5},{"s":"g","t":"2005-08-09 12:00","v":1.53},{"s":"g","t":"2005-08-09 19:00","v":0.43},{"s":"g","t":"2005-08-10 01:00","v":1.6},{"s":"g","t":"2005-08-10 07:00","v":0.29},{"s":"g","t":"2005-08-10 13:00","v":1.39},{"s":"g","t":"2005-08-10 19:00","v":0.36},{"s":"g","t":"2005-08-11 00:00","v":0.98},
{"s":"k","t":"2005-08-01 00:00","v":-0.33},{"s":"k","t":"2005-08-01 02:00","v":-0.4},{"s":"k","t":"2005-08-01 07:00","v":0.54},{"s":"k","t":"2005-08-01 13:00","v":-0.81},{"s":"k","t":"2005-08-01 20:00","v":1.05},{"s":"k","t":"2005-08-02 02:00","v":-0.47},{"s":"k","t":"2005-08-02 04:00","v":-0.33},{"s":"k","t":"2005-08-02 07:00","v":0.56},{"s":"k","t":"2005-08-02 14:00","v":-0.91},{"s":"k","t":"2005-08-02 21:00","v":1.32},{"s":"k","t":"2005-08-03 02:00","v":-0.3},{"s":"k","t":"2005-08-03 08:00","v":0.91},{"s":"k","t":"2005-08-03 15:00","v":-0.12},{"s":"k","t":"2005-08-03 18:00","v":0.63},{"s":"k","t":"2005-08-03 21:00","v":1.94},{"s":"k","t":"2005-08-04 01:00","v":1.62},{"s":"k","t":"2005-08-04 04:00","v":1.57},{"s":"k","t":"2005-08-04 08:00","v":1.53},{"s":"k","t":"2005-08-04 09:00","v":1.6},{"s":"k","t":"2005-08-04 12:00","v":1.05},{"s":"k","t":"2005-08-04 14:00","v":0.77},{"s":"k","t":"2005-08-04 18:00","v":0.63},{"s":"k","t":"2005-08-04 22:00","v":1.76},{"s":"k","t":"2005-08-05 04:00","v":-0.03},{"s":"k","t":"2005-08-05 09:00","v":1.05},{"s":"k","t":"2005-08-05 16:00","v":-0.4},{"s":"k","t":"2005-08-05 22:00","v":1.73},{"s":"k","t":"2005-08-06 04:00","v":-0.63},{"s":"k","t":"2005-08-06 10:00","v":1.12},{"s":"k","t":"2005-08-06 17:00","v":-0.92},{"s":"k","t":"2005-08-06 23:00","v":1.62},{"s":"k","t":"2005-08-07 05:00","v":-0.88},{"s":"k","t":"2005-08-07 11:00","v":1.05},{"s":"k","t":"2005-08-07 17:00","v":-1.02},{"s":"k","t":"2005-08-07 23:00","v":1.71},{"s":"k","t":"2005-08-08 06:00","v":-1.06},{"s":"k","t":"2005-08-08 11:00","v":1.18},{"s":"k","t":"2005-08-08 18:00","v":-0.74},{"s":"k","t":"2005-08-09 00:00","v":1.6},{"s":"k","t":"2005-08-09 06:00","v":-0.74},{"s":"k","t":"2005-08-09 12:00","v":1.18},{"s":"k","t":"2005-08-09 19:00","v":-0.78},{"s":"k","t":"2005-08-10 00:00","v":1.46},{"s":"k","t":"2005-08-10 07:00","v":-0.85},{"s":"k","t":"2005-08-10 13:00","v":1.12},{"s":"k","t":"2005-08-10 16:00","v":-0.33},{"s":"k","t":"2005-08-10 20:00","v":-1.16},{"s":"k","t":"2005-08-11 00:00","v":0.98}
 ]},
 "mark": {"type": "line", "interpolate": "monotone"},
 "encoding": {
  "x": {"field": "t", "type": "temporal", "scale": {"domain": [{"year":2005,"month":8,"date":1},{"year":2005,"month":8,"date":11}]}, "axis": {"tickCount": 20, "title": null}},
  "y": {"field": "v", "type": "quantitative", "scale": {"domain": [-6, 6], "zero": false}, "axis": {"values": [-6,-4,-2,0,2,4,6], "title": "수위(EL.m)"}},
  "color": {"field": "s", "type": "nominal", "scale": {"domain": ["b","r","g","k"], "range": ["#0000ff","#ff0000","#3d9a60","#000000"]}, "legend": {"legendX": 316, "legendY": 6, "labelExpr": "datum.label=='b'?'하동계산수위(하류:하동수위)':datum.label=='r'?'하동계산수위(하류:여수지점)':datum.label=='g'?'하동계산수위(하류:광양지점)':'하동관측수위'"}},
  "strokeWidth": {"condition": {"test": "datum.s=='k'", "value": 2}, "value": 1.5}
 }
}
], "spacing": 17, "resolve": {"scale": {"color": "independent"}, "legend": {"color": "independent"}}}
]
}
